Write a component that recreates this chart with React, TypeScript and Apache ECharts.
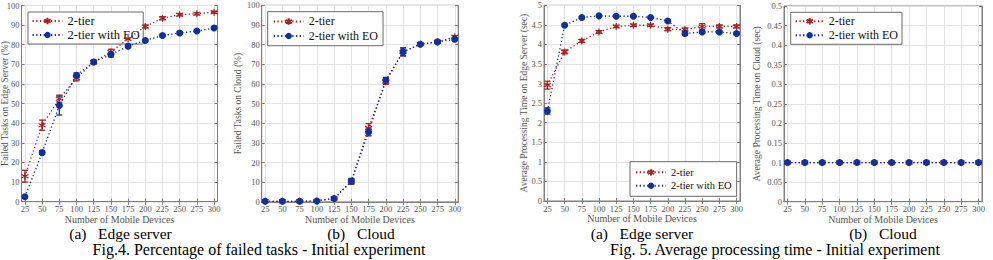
import React, { useEffect, useRef } from 'react';
import * as echarts from 'echarts';

// ---------- data ----------
const devices = [25, 50, 75, 100, 125, 150, 175, 200, 225, 250, 275, 300];
const xTicks = [25, 50, 75, 100, 125, 150, 175, 200, 225, 250, 275, 300];

const edgeFailTwoTier = [13, 39, 52.5, 63, 71.2, 76.3, 83, 89.3, 93.5, 95.3, 95.8, 96.6];
const edgeFailTwoTierErr = [3, 2.6, 1.8, 1.4, 1, 1.4, 1, 0.8, 0.8, 0.6, 0.6, 0.5];
const edgeFailEO = [2.5, 25, 49, 64.4, 71.2, 75, 79.3, 82.2, 84.7, 86, 87, 88.5];
const edgeFailEOErr = [0.6, 0.8, 4.8, 1.2, 0.8, 1.2, 0.8, 0.6, 0.6, 0.6, 0.6, 0.6];

const cloudFailTwoTier = [0.3, 0.3, 0.3, 0.5, 1.7, 10.5, 37.6, 61.2, 76.3, 80.2, 81.4, 84];
const cloudFailTwoTierErr = [0, 0, 0, 0, 0.6, 1.4, 2.2, 1.4, 2, 0.6, 0.6, 0.6];
const cloudFailEO = [0.3, 0.3, 0.3, 0.5, 1.7, 10.5, 35.6, 61.9, 76.3, 80.2, 81.4, 82.7];
const cloudFailEOErr = [0, 0, 0, 0, 0.6, 1.4, 2, 1.4, 2, 0.6, 0.6, 0.6];

const edgeTimeTwoTier = [2.96, 3.81, 4.09, 4.32, 4.46, 4.49, 4.49, 4.39, 4.38, 4.46, 4.46, 4.46];
const edgeTimeTwoTierErr = [0.1, 0.05, 0.04, 0.03, 0.03, 0.03, 0.03, 0.04, 0.04, 0.07, 0.04, 0.04];
const edgeTimeEO = [2.3, 4.49, 4.69, 4.73, 4.72, 4.72, 4.69, 4.6, 4.28, 4.32, 4.32, 4.28];
const edgeTimeEOErr = [0.08, 0.03, 0.02, 0.02, 0.02, 0.02, 0.02, 0.02, 0.05, 0.04, 0.03, 0.03];

const cloudTimeTwoTier = [0.1, 0.1, 0.1, 0.1, 0.1, 0.1, 0.1, 0.1, 0.1, 0.1, 0.1, 0.1];
const cloudTimeTwoTierErr = [0, 0, 0, 0, 0, 0, 0, 0, 0, 0, 0, 0];
const cloudTimeEO = [0.1, 0.1, 0.1, 0.1, 0.1, 0.1, 0.1, 0.1, 0.1, 0.1, 0.1, 0.1];
const cloudTimeEOErr = [0, 0, 0, 0, 0, 0, 0, 0, 0, 0, 0, 0];

const seriesNames = ['2-tier', '2-tier with EO'];
const xAxisName = 'Number of Mobile Devices';

// ---------- style / layout ----------
const FONT = 'Liberation Serif';
const RED = '#a32222';
const BLUE = '#11309c';
const GRID_LINE = '#e4e4e4';
const AXIS = '#808080';
const LABEL = '#555555';
const STAR = 'path://M0,-5L0,5M-4.33,-2.5L4.33,2.5M-4.33,2.5L4.33,-2.5';

const panels = [
  {
    grid: { left: 21.5, top: 5.5, width: 196, height: 196.2 },
    yMin: 0, yMax: 100, yInt: 10, yName: 'Failed Tasks on Edge Server (%)', yGap: 12,
    a: edgeFailTwoTier, aErr: edgeFailTwoTierErr, b: edgeFailEO, bErr: edgeFailEOErr,
    legend: { left: 28, top: 12, fontSize: 12.5, lineHeight: 14, itemWidth: 30, padding: [2, 3.5] },
  },
  {
    grid: { left: 261.7, top: 5.3, width: 196.5, height: 196.6 },
    yMin: 0, yMax: 100, yInt: 10, yName: 'Failed Tasks on Cloud (%)', yGap: 18.5,
    a: cloudFailTwoTier, aErr: cloudFailTwoTierErr, b: cloudFailEO, bErr: cloudFailEOErr,
    legend: { left: 267.7, top: 11.7, fontSize: 12, lineHeight: 14.5, itemWidth: 30, padding: [2.5, 5] },
  },
  {
    grid: { left: 544, top: 5.3, width: 196, height: 195.7 },
    yMin: 0, yMax: 5, yInt: 0.5, yName: 'Average Processing Time on Edge Server (sec)', yGap: 15,
    a: edgeTimeTwoTier, aErr: edgeTimeTwoTierErr, b: edgeTimeEO, bErr: edgeTimeEOErr,
    legend: { left: 630, top: 161.7, fontSize: 10.5, lineHeight: 13.3, itemWidth: 30, padding: [4, 5] },
  },
  {
    grid: { left: 784, top: 6, width: 198, height: 195.7 },
    yMin: 0, yMax: 0.5, yInt: 0.05, yName: 'Average Processing Time on Cloud (sec)', yGap: 22,
    a: cloudTimeTwoTier, aErr: cloudTimeTwoTierErr, b: cloudTimeEO, bErr: cloudTimeEOErr,
    legend: { left: 790.7, top: 12.3, fontSize: 12, lineHeight: 14, itemWidth: 28, padding: [2, 4] },
  },
];

const captions = [
  { text: '(a)   Edge server', x: 120.5, y: 233, size: 15.5 },
  { text: '(b)   Cloud', x: 361, y: 233, size: 15.5 },
  { text: 'Fig.4. Percentage of failed tasks - Initial experiment', x: 259, y: 249.5, size: 16 },
  { text: '(a)   Edge server', x: 642, y: 233, size: 15.5 },
  { text: '(b)   Cloud', x: 883, y: 233, size: 15.5 },
  { text: 'Fig. 5. Average processing time - Initial experiment', x: 775, y: 249.5, size: 16 },
];

function errData(vals: number[], errs: number[]) {
  const out: number[][] = [];
  devices.forEach((x, i) => {
    if (errs[i] > 0) out.push([x, vals[i] - errs[i], vals[i] + errs[i]]);
  });
  return out;
}

function errSeries(name: string, data: number[][], color: string, idx: number) {
  return {
    type: 'custom',
    name,
    xAxisIndex: idx,
    yAxisIndex: idx,
    data,
    z: 3,
    silent: true,
    renderItem: (params: any, api: any) => {
      const x = api.value(0);
      const lo = api.coord([x, api.value(1)]);
      const hi = api.coord([x, api.value(2)]);
      const w = 3;
      const st = { stroke: color, lineWidth: 1.3 };
      return {
        type: 'group',
        children: [
          { type: 'line', shape: { x1: lo[0], y1: lo[1], x2: hi[0], y2: hi[1] }, style: st },
          { type: 'line', shape: { x1: lo[0] - w, y1: lo[1], x2: lo[0] + w, y2: lo[1] }, style: st },
          { type: 'line', shape: { x1: hi[0] - w, y1: hi[1], x2: hi[0] + w, y2: hi[1] }, style: st },
        ],
      };
    },
  };
}

function buildOption() {
  const grid: any[] = [];
  const xAxis: any[] = [];
  const yAxis: any[] = [];
  const series: any[] = [];
  const legend: any[] = [];

  panels.forEach((p, i) => {
    grid.push({ ...p.grid, show: true, borderColor: AXIS, borderWidth: 1, backgroundColor: '#fff', containLabel: false, outerBoundsMode: 'none' });
    xAxis.push({
      type: 'value', gridIndex: i, min: 20, max: 305,
      name: xAxisName, nameLocation: 'middle', nameGap: 12.5, nameMoveOverlap: false,
      nameTextStyle: { fontFamily: FONT, fontSize: 10, color: LABEL, lineHeight: 10 },
      axisLine: { show: true, lineStyle: { color: AXIS } },
      axisTick: { show: true, inside: true, length: 3, customValues: xTicks, lineStyle: { color: AXIS } },
      axisLabel: { customValues: xTicks, fontFamily: FONT, fontSize: 8.5, color: LABEL, margin: 3 },
      splitLine: { show: true, lineStyle: { color: GRID_LINE } },
    });
    yAxis.push({
      type: 'value', gridIndex: i, min: p.yMin, max: p.yMax, interval: p.yInt,
      name: p.yName, nameLocation: 'middle', nameGap: p.yGap, nameMoveOverlap: false,
      nameTextStyle: { fontFamily: FONT, fontSize: 9.5, color: LABEL },
      axisLine: { show: true, lineStyle: { color: AXIS } },
      axisTick: { show: true, inside: true, length: 3, lineStyle: { color: AXIS } },
      axisLabel: { fontFamily: FONT, fontSize: 8.5, color: LABEL, margin: 2 },
      splitLine: { show: true, lineStyle: { color: GRID_LINE } },
    });
  });
  panels.forEach((p, i) => {
    xAxis.push({
      type: 'value', gridIndex: i, position: 'top', min: 20, max: 305,
      axisLine: { show: true, lineStyle: { color: AXIS } },
      axisTick: { show: true, inside: true, length: 3, customValues: xTicks, lineStyle: { color: AXIS } },
      axisLabel: { show: false, customValues: xTicks },
      splitLine: { show: false },
    });
    yAxis.push({
      type: 'value', gridIndex: i, position: 'right', min: p.yMin, max: p.yMax, interval: p.yInt,
      axisLine: { show: true, lineStyle: { color: AXIS } },
      axisTick: { show: true, inside: true, length: 3, lineStyle: { color: AXIS } },
      axisLabel: { show: false },
      splitLine: { show: false },
    });
  });

  panels.forEach((p, i) => {
    series.push(errSeries('err-a-' + i, errData(p.a, p.aErr), RED, i));
    series.push({
      type: 'line', name: seriesNames[0], xAxisIndex: i, yAxisIndex: i,
      data: devices.map((x, k) => [x, p.a[k]]),
      symbol: STAR, symbolSize: 7,
      itemStyle: { color: RED, borderColor: RED, borderWidth: 1.2 },
      lineStyle: { color: RED, width: 1.3, type: [1.3, 2.4] },
      z: 4,
    });
    series.push(errSeries('err-b-' + i, errData(p.b, p.bErr), BLUE, i));
    series.push({
      type: 'line', name: seriesNames[1], xAxisIndex: i, yAxisIndex: i,
      data: devices.map((x, k) => [x, p.b[k]]),
      symbol: 'circle', symbolSize: 7,
      itemStyle: { color: BLUE },
      lineStyle: { color: BLUE, width: 1.3, type: [1.3, 2.4] },
      z: 5,
    });
    legend.push({
      data: seriesNames,
      orient: 'vertical',
      left: p.legend.left, top: p.legend.top,
      padding: p.legend.padding,
      itemWidth: p.legend.itemWidth, itemHeight: 8, itemGap: 0,
      backgroundColor: '#fff', borderColor: '#6a6a6a', borderWidth: 1,
      textStyle: { fontFamily: FONT, fontSize: p.legend.fontSize, lineHeight: p.legend.lineHeight, color: '#111' },
      selectedMode: false,
    });
  });

  const graphic = captions.map((c) => ({
    type: 'text', x: c.x, y: c.y,
    style: { text: c.text, fontFamily: FONT, fontSize: c.size, lineHeight: c.size, fill: '#000', align: 'center', verticalAlign: 'middle' },
  }));

  return {
    animation: false,
    backgroundColor: '#fff',
    grid, xAxis, yAxis, series, legend, graphic,
  };
}

export default function App() {
  const ref = useRef<HTMLDivElement>(null);
  useEffect(() => {
    if (!ref.current) return;
    const chart = echarts.init(ref.current, undefined, { renderer: 'svg' });
    chart.setOption(buildOption() as any);
    return () => chart.dispose();
  }, []);
  return (
    <div
      ref={ref}
      style={{ position: 'fixed', left: 0, top: 0, width: 993, height: 260, background: '#fff' }}
    />
  );
}
